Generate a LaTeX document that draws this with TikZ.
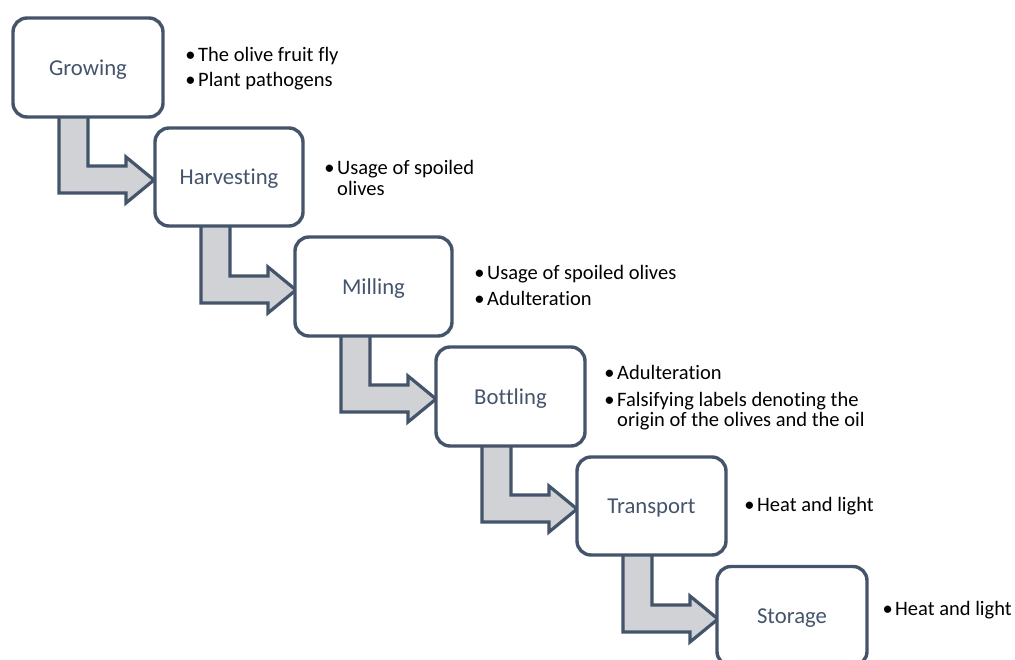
\documentclass[tikz,border=0pt]{standalone}
\usepackage{fontspec}
\setmainfont{Carlito}[Ligatures={NoCommon,NoDiscretionary,NoRare}]
\definecolor{slate}{HTML}{44546A}
\definecolor{arrowgray}{HTML}{D0D2D6}
\newcommand{\bul}{\llap{\textbullet\hspace{2.5pt}}}
\begin{document}
\begin{tikzpicture}[x=1pt,y=-1pt,
  stage/.style={draw=slate, line width=3.4pt, fill=white, rounded corners=14pt,
    text=slate, font=\fontsize{22.7}{27}\selectfont, text height=20pt, text depth=5pt,
    inner sep=0pt},
  bline/.style={anchor=base west, inner sep=0pt, text=black, font=\fontsize{20.5}{24}\selectfont},
  flow/.style={draw=slate, line width=3.2pt, fill=arrowgray, line join=miter}]
\clip (0,0) rectangle (1015,659);
% anchor points of the stage boxes (top-left corners)
\coordinate (pG) at (13,18);
\coordinate (pH) at (155,128);
\coordinate (pM) at (295,237);
\coordinate (pB) at (436,347);
\coordinate (pT) at (577,457);
% bent arrows
\foreach \p in {pG,pH,pM,pB,pT}{
  \draw[flow] ([shift={(46,80)}]\p) -- ([shift={(46,175)}]\p) -- ([shift={(113,175)}]\p)
     -- ([shift={(113,185)}]\p) -- ([shift={(141,162)}]\p) -- ([shift={(113,139)}]\p)
     -- ([shift={(113,148)}]\p) -- ([shift={(75,148)}]\p) -- ([shift={(75,80)}]\p) -- cycle;
}
\node[stage, minimum width=150pt, minimum height=99pt] (growing) at (88,67.5) {Growing};
\node[stage, minimum width=148pt, minimum height=98pt] (harvesting) at (229,177) {Harves\kern0pt ting};
\node[stage, minimum width=157pt, minimum height=99pt] (milling) at (373.5,286.5) {Milling};
\node[stage, minimum width=149pt, minimum height=99pt] (bottling) at (510.5,396.5) {Bot\kern0pt t\kern0pt ling};
\node[stage, minimum width=149pt, minimum height=98pt] (transport) at (651.5,506) {Transport};
\node[stage, minimum width=150pt, minimum height=99pt] (storage) at (792,616) {Storage};
% bullet texts
\node[bline] (g1) at (198,61.7) {\bul The olive fruit f\kern0pt ly};
\node[bline] (g2) at (198,86.7) {\bul Plant pathogens};
\node[bline] (h1) at (337,174) {\bul Usage of spoiled};
\node[bline] (h2) at (337,195) {olives};
\node[bline] (m1) at (487,279) {\bul Usage of spoiled olives};
\node[bline] (m2) at (487,305) {\bul Adulteration};
\node[bline] (b1) at (617,379) {\bul Adulteration};
\node[bline] (b2) at (617,406.7) {\bul Falsifying labels denot\kern0pt ing the};
\node[bline] (b3) at (617,426.7) {origin of the olives and the oil};
\node[bline] (t1) at (757,511.7) {\bul Heat and light};
\node[bline] (s1) at (895,615) {\bul Heat and light};
\end{tikzpicture}
\end{document}
